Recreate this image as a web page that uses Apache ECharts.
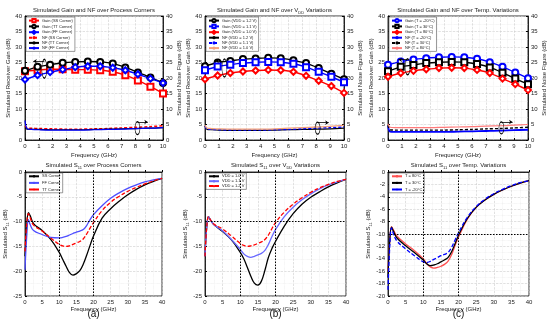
<!DOCTYPE html>
<html><head><meta charset="utf-8">
<script src="https://cdn.jsdelivr.net/npm/echarts@6/dist/echarts.min.js"></script>
<style>html,body{margin:0;padding:0;background:#fff}#c{width:550px;height:328px}</style>
</head><body><div id="c"></div>
<script>
// ---------- DATA ----------
const fGain = [0, 0.91, 1.82, 2.73, 3.64, 4.55, 5.45, 6.36, 7.27, 8.18, 9.09, 10];
const fNF = [0, 0.15, 0.5, 1, 2, 3, 4, 5, 6, 7, 8, 9, 10];
const fS11 = [0, 0.5, 1, 1.5, 2.5, 5, 7.5, 10, 11, 12, 13, 14, 15, 16, 17, 18, 19, 20, 22.5, 25, 27.5, 30, 32.5, 35, 37.5, 40];

// (top-left) process corners
const gainSS = [22.2, 22.6, 22.8, 22.8, 22.7, 22.7, 22.5, 22.0, 20.9, 19.2, 17.2, 15.0];
const gainTT = [22.3, 23.6, 24.3, 24.9, 25.2, 25.3, 25.2, 24.7, 23.4, 21.8, 20.2, 18.4];
const gainFF = [19.5, 20.9, 21.9, 22.7, 23.5, 23.8, 23.8, 23.3, 22.5, 21.2, 19.8, 18.4];
const nfSS = [4.5, 3.9, 3.8, 3.7, 3.6, 3.5, 3.5, 3.6, 3.7, 3.9, 4.1, 4.3, 4.6];
const nfTT = [4.0, 3.5, 3.4, 3.4, 3.3, 3.3, 3.3, 3.4, 3.5, 3.6, 3.7, 3.8, 4.0];
const nfFF = [6.3, 3.7, 3.4, 3.3, 3.2, 3.2, 3.2, 3.3, 3.4, 3.5, 3.7, 3.8, 4.0];

// (top-middle) VDD
const gainV12 = [23.8, 25.0, 25.5, 26.1, 26.3, 26.5, 26.4, 25.7, 24.8, 23.2, 21.4, 19.6];
const gainV11 = [22.5, 23.7, 24.3, 24.8, 25.1, 25.2, 25.1, 24.6, 23.5, 22.0, 20.4, 18.6];
const gainV10 = [19.6, 20.8, 21.6, 22.1, 22.4, 22.6, 22.5, 22.0, 20.7, 19.1, 17.4, 15.2];
const nfV12 = [4.5, 3.4, 3.3, 3.2, 3.1, 3.1, 3.1, 3.2, 3.3, 3.4, 3.5, 3.6, 3.8];
const nfV11 = [4.5, 3.5, 3.4, 3.3, 3.2, 3.2, 3.2, 3.3, 3.4, 3.6, 3.8, 4.0, 4.2];
const nfV10 = [4.8, 3.8, 3.7, 3.6, 3.5, 3.5, 3.5, 3.6, 3.8, 4.0, 4.2, 4.4, 4.7];

// (top-right) temperature
const gainTm20 = [24.3, 25.3, 26.0, 26.4, 26.7, 26.8, 26.7, 26.2, 25.1, 23.6, 21.8, 19.9];
const gainT30 = [22.2, 23.6, 24.2, 24.8, 25.1, 25.2, 25.1, 24.5, 23.4, 21.7, 19.8, 18.0];
const gainT80 = [20.4, 21.6, 22.3, 22.8, 23.2, 23.3, 23.2, 22.6, 21.6, 19.8, 18.0, 16.1];
const nfTm20 = [4.5, 2.7, 2.6, 2.6, 2.6, 2.6, 2.6, 2.7, 2.8, 2.9, 3.0, 3.2, 3.3];
const nfT30 = [4.8, 3.3, 3.2, 3.2, 3.2, 3.2, 3.2, 3.3, 3.4, 3.6, 3.7, 3.9, 4.1];
const nfT80 = [5.2, 4.1, 4.0, 4.0, 4.0, 4.0, 4.1, 4.2, 4.3, 4.5, 4.6, 4.8, 5.0];

// (a) S11 process corners
const s11SS = [-17, -11, -8.2, -8.8, -10.4, -11.8, -13.6, -16.2, -17.6, -19.0, -20.3, -20.8, -20.5, -19.9, -18.6, -16.8, -14.8, -12.9, -9.3, -7.4, -5.9, -4.6, -3.5, -2.6, -1.9, -1.3];
const s11FF = [-19.7, -13, -9.6, -10.6, -11.8, -12.6, -13.2, -13.3, -13.2, -13.0, -12.7, -12.4, -12.1, -11.9, -11.6, -10.8, -9.6, -8.6, -6.8, -5.3, -4.2, -3.3, -2.6, -2.0, -1.6, -1.3];
const s11TT = [-16, -10.5, -8.4, -9.2, -10.7, -11.9, -13.3, -14.6, -14.9, -15.0, -14.9, -14.6, -14.3, -14.0, -13.5, -12.5, -11.3, -10.2, -7.8, -6.1, -4.9, -3.9, -3.1, -2.4, -1.8, -1.3];
// (b) S11 VDD
const s11V10 = [-17, -11, -9, -9.6, -10.6, -12.0, -13.7, -16.2, -17.5, -19.2, -21.0, -22.4, -22.8, -22.0, -19.8, -17.2, -15.4, -14.0, -10.9, -8.4, -6.5, -5.1, -4.0, -3.0, -2.2, -1.5];
const s11V11 = [-17, -11, -9, -9.6, -10.6, -11.9, -13.6, -15.6, -16.5, -17.0, -17.2, -17.0, -16.7, -16.4, -15.8, -14.6, -13.0, -11.6, -9.0, -7.1, -5.6, -4.4, -3.4, -2.6, -2.0, -1.5];
const s11V12 = [-17, -11, -9, -9.6, -10.5, -11.5, -12.9, -14.4, -14.8, -15.0, -14.9, -14.7, -14.4, -14.1, -13.6, -12.7, -11.4, -10.2, -8.1, -6.5, -5.2, -4.1, -3.2, -2.5, -1.9, -1.5];
// (c) S11 temperature
const s11T80 = [-16, -11, -8.8, -9.3, -10.3, -11.6, -12.7, -14.0, -14.8, -15.3, -15.5, -15.4, -15.2, -14.9, -14.4, -13.4, -11.9, -10.5, -7.6, -5.7, -4.5, -3.6, -2.9, -2.3, -1.8, -1.4];
const s11T30 = [-17, -11, -8.9, -9.5, -10.6, -11.9, -13.0, -14.2, -14.8, -15.1, -15.0, -14.8, -14.5, -14.2, -13.8, -12.9, -11.6, -10.2, -7.5, -5.7, -4.5, -3.6, -2.9, -2.3, -1.8, -1.4];
const s11Tm20 = [-19, -12, -9.0, -9.9, -11.1, -12.4, -13.5, -14.5, -14.6, -14.4, -14.1, -13.8, -13.5, -13.3, -13.0, -12.2, -11.0, -9.8, -7.3, -5.6, -4.4, -3.5, -2.8, -2.2, -1.7, -1.4];

// reference lines on S11 plots
const refFreqs = [10, 20];
const refLevel = -10;
// annotations (ellipse centre x, centre y, arrow y, arrow end x) for top plots
const gainNote = [[1.4, 23.0, 25.4, 0.6], [1.4, 23.2, 25.5, 0.75], [1.4, 23.6, 25.9, 0.75]];
const nfNote = [[8.15, 3.8, 5.8, 8.9], [8.1, 3.8, 5.6, 8.9], [8.1, 3.9, 5.8, 8.9]];

// ---------- LAYOUT ----------
const grids = [
  {left: 25, top: 16, width: 138, height: 124},
  {left: 205, top: 16, width: 139, height: 124},
  {left: 388, top: 16, width: 140, height: 124},
  {left: 25, top: 172, width: 137, height: 124},
  {left: 205, top: 172, width: 141, height: 124},
  {left: 388, top: 172, width: 141, height: 124}
];
const RED = '#ff0000', BLUE = '#0000ff', BLK = '#000000';
const FONT = 'Liberation Sans, Arial, sans-serif';
const pairs = (xs, ys) => xs.map((x, i) => [x, ys[i]]);

const gridLine = {show: true, lineStyle: {color: '#cccccc', type: 'dashed', width: 0.6}};
const minorLine = {show: true, lineStyle: {color: '#e8e8e8', type: 'dotted', width: 0.6}};
const lbl = {fontSize: 6, color: '#222', margin: 3, fontFamily: FONT};
const nameStyle = {fontSize: 6, color: '#222', fontFamily: FONT,
  rich: {t: {fontSize: 6, lineHeight: 9, fontFamily: FONT, color: '#222'},
         s: {fontSize: 4, lineHeight: 9, verticalAlign: 'bottom', fontFamily: FONT, color: '#222'}}};

const xAxes = grids.map((g, i) => ({
  type: 'value', gridIndex: i, min: 0, max: i < 3 ? 10 : 40, interval: i < 3 ? 1 : 5,
  name: 'Frequency (GHz)', nameLocation: 'middle', nameGap: i < 3 ? 12 : 10, nameTextStyle: nameStyle,
  axisLine: {show: true, lineStyle: {color: '#000', width: 0.8}},
  axisTick: {show: true, inside: true, length: 2, lineStyle: {color: '#000'}},
  axisLabel: lbl, splitLine: gridLine, minorTick: {show: false, splitNumber: 2}, minorSplitLine: minorLine
}));

const yAxes = [];
function addY(gi, pos, min, max, interval, name) {
  yAxes.push({
    type: 'value', gridIndex: gi, position: pos, min, max, interval,
    name, nameLocation: 'middle', nameGap: pos === 'left' ? 11 : 12, nameRotate: 90,
    nameTextStyle: nameStyle,
    axisLine: {show: true, onZero: false, lineStyle: {color: '#000', width: 0.8}},
    axisTick: {show: true, inside: true, length: 2, lineStyle: {color: '#000'}},
    axisLabel: lbl,
    splitLine: pos === 'left' ? gridLine : {show: false},
    minorTick: {show: false, splitNumber: 2},
    minorSplitLine: pos === 'left' ? minorLine : {show: false}
  });
  return yAxes.length - 1;
}
const yIdx = [];
for (let i = 0; i < 3; i++) {
  yIdx.push([addY(i, 'left', 0, 40, 5, 'Simulated Receiver Gain (dB)'),
             addY(i, 'right', 0, 40, 5, 'Simulated Noise Figure (dB)')]);
}
const s11Name = '{t|Simulated S}{s|11}{t| (dB)}';
yIdx.push([addY(3, 'left', -25, 0, 5, s11Name)]);
yIdx.push([addY(4, 'left', -25, 0, 5, s11Name)]);
yIdx.push([addY(5, 'left', -20, 0, 2, s11Name)]);

const series = [];
function gainS(gi, name, vals, color, sym) {
  series.push({type: 'line', name, xAxisIndex: gi, yAxisIndex: yIdx[gi][0], data: pairs(fGain, vals),
    symbol: sym, symbolSize: 6, smooth: 0.2, lineStyle: {color, width: 1.4},
    itemStyle: {color, borderWidth: 1.3}, z: 3});
  return series[series.length - 1];
}
function nfS(gi, name, vals, color, type, width) {
  series.push({type: 'line', name, xAxisIndex: gi, yAxisIndex: yIdx[gi][1], data: pairs(fNF, vals),
    symbol: 'none', smooth: 0.3, lineStyle: {color, width: width || 1.2, type: type || 'solid'},
    itemStyle: {color}, z: 2});
  return series[series.length - 1];
}
function s11S(gi, name, vals, color, type) {
  series.push({type: 'line', name, xAxisIndex: gi, yAxisIndex: yIdx[gi][0], data: pairs(fS11, vals),
    symbol: 'none', smooth: 0.4, lineStyle: {color, width: 1.3, type: type || 'solid'},
    itemStyle: {color}, z: 3});
  return series[series.length - 1];
}
const ELLIPSE = 'path://M50,0 C77.6,0 100,22.4 100,50 C100,77.6 77.6,100 50,100 C22.4,100 0,77.6 0,50 C0,22.4 22.4,0 50,0 Z';
function annotate(s, note, h) {
  s.markPoint = {silent: true, symbol: ELLIPSE, symbolSize: [5, h], label: {show: false},
    itemStyle: {color: 'rgba(0,0,0,0)', borderColor: '#000', borderWidth: 0.8},
    data: [{coord: [note[0], note[1]]}]};
  s.markLine = {silent: true, symbol: ['none', 'arrow'], symbolSize: 3.5, label: {show: false},
    lineStyle: {color: '#000', width: 0.8, type: 'solid'},
    data: [[{coord: [note[0], note[2]]}, {coord: [note[3], note[2]]}]]};
}
function refLines(s) {
  s.markLine = {silent: true, symbol: 'none', label: {show: false},
    lineStyle: {color: '#000', width: 1, type: [1.5, 1.5]},
    data: refFreqs.map(f => ({xAxis: f})).concat([{yAxis: refLevel}])};
}

// Plot 1
let a = gainS(0, 'Gain (SS Corner)', gainSS, RED, 'emptyRect');
let b = gainS(0, 'Gain (TT Corner)', gainTT, BLK, 'emptyCircle');
gainS(0, 'Gain (FF Corner)', gainFF, BLUE, 'emptyDiamond');
annotate(b, gainNote[0], 19);
nfS(0, 'NF (SS Corner)', nfSS, RED, [3, 2], 1.5);
let c = nfS(0, 'NF (TT Corner)', nfTT, BLK);
nfS(0, 'NF (FF Corner)', nfFF, BLUE);
annotate(c, nfNote[0], 13);
// Plot 2
b = gainS(1, 'Gain (VDD = 1.2 V)', gainV12, BLK, 'emptyCircle');
gainS(1, 'Gain (VDD = 1.1 V)', gainV11, BLUE, 'emptyRect');
gainS(1, 'Gain (VDD = 1.0 V)', gainV10, RED, 'emptyDiamond');
annotate(b, gainNote[1], 18);
c = nfS(1, 'NF (VDD = 1.2 V)', nfV12, BLK);
nfS(1, 'NF (VDD = 1.1 V)', nfV11, BLUE, [3, 2], 1.4);
nfS(1, 'NF (VDD = 1.0 V)', nfV10, '#f4a07a', 'solid', 1.3);
annotate(c, nfNote[1], 12);
// Plot 3
b = gainS(2, 'Gain (T = -20°C)', gainTm20, BLUE, 'emptyCircle');
gainS(2, 'Gain (T = 30°C)', gainT30, BLK, 'emptyRect');
gainS(2, 'Gain (T = 80°C)', gainT80, RED, 'emptyDiamond');
annotate(b, gainNote[2], 16);
c = nfS(2, 'NF (T = -20°C)', nfTm20, BLUE, 'solid', 1.8);
nfS(2, 'NF (T = 30°C)', nfT30, BLK, [3, 2], 1.4);
nfS(2, 'NF (T = 80°C)', nfT80, '#ff7a7a', 'solid', 1.2);
annotate(c, nfNote[2], 12);
// Plot (a)
refLines(s11S(3, 'SS Corner', s11SS, BLK));
s11S(3, 'FF Corner', s11FF, '#4d4dff');
s11S(3, 'TT Corner', s11TT, RED, [4, 2]);
// Plot (b)
refLines(s11S(4, 'VDD = 1.0 V', s11V10, BLK));
s11S(4, 'VDD = 1.1 V', s11V11, '#6a6aff');
s11S(4, 'VDD = 1.2 V', s11V12, RED, [4, 2]);
// Plot (c)
refLines(s11S(5, 'T = 80°C', s11T80, '#ff5050'));
s11S(5, 'T = 30°C', s11T30, BLK);
s11S(5, 'T = -20°C', s11Tm20, BLUE, [4, 2]);

const legendNames = [
  ['Gain (SS Corner)', 'Gain (TT Corner)', 'Gain (FF Corner)', 'NF (SS Corner)', 'NF (TT Corner)', 'NF (FF Corner)'],
  ['Gain (VDD = 1.2 V)', 'Gain (VDD = 1.1 V)', 'Gain (VDD = 1.0 V)', 'NF (VDD = 1.2 V)', 'NF (VDD = 1.1 V)', 'NF (VDD = 1.0 V)'],
  ['Gain (T = -20°C)', 'Gain (T = 30°C)', 'Gain (T = 80°C)', 'NF (T = -20°C)', 'NF (T = 30°C)', 'NF (T = 80°C)'],
  ['SS Corner', 'FF Corner', 'TT Corner'],
  ['VDD = 1.0 V', 'VDD = 1.1 V', 'VDD = 1.2 V'],
  ['T = 80°C', 'T = 30°C', 'T = -20°C']
];
const legends = legendNames.map((names, i) => ({
  data: names, orient: 'vertical', left: grids[i].left + 1, top: grids[i].top + 1,
  itemWidth: 10, itemHeight: i < 3 ? 4 : 3, itemGap: i < 3 ? 0.6 : (i === 4 ? 0.3 : 2),
  padding: [1, 2, 1, 2], backgroundColor: '#fff', borderColor: '#555', borderWidth: 0.6, borderRadius: 0,
  selectedMode: false,
  textStyle: {fontSize: 4, lineHeight: 4.6, color: '#222', fontFamily: FONT, padding: [0, 0, 0, -2]}
}));

const tStyle = {fontSize: 6, fontWeight: 'normal', color: '#222', fontFamily: FONT,
  rich: {t: {fontSize: 6, lineHeight: 9, fontFamily: FONT, color: '#222'},
         s: {fontSize: 4, lineHeight: 9, verticalAlign: 'bottom', fontFamily: FONT, color: '#222'}}};
const titleTexts = [
  '{t|Simulated Gain and NF over Process Corners}',
  '{t|Simulated Gain and NF over V}{s|DD}{t| Variations}',
  '{t|Simulated Gain and NF over Temp. Variations}',
  '{t|Simulated S}{s|11}{t| over Process Corners}',
  '{t|Simulated S}{s|11}{t| over V}{s|DD}{t| Variations}',
  '{t|Simulated S}{s|11}{t| over Temp. Variations}'
];
const titles = titleTexts.map((t, i) => ({
  text: t, left: grids[i].left + grids[i].width / 2, textAlign: 'center',
  top: i < 3 ? 6 : 161, padding: 0, textStyle: tStyle
}));
['(a)', '(b)', '(c)'].forEach((t, k) => titles.push({
  text: t, left: grids[k + 3].left + grids[k + 3].width / 2, textAlign: 'center', top: 309, padding: 0,
  textStyle: {fontSize: 10, fontWeight: 'normal', color: '#111', fontFamily: FONT}
}));

const chart = echarts.init(document.getElementById('c'), null, {renderer: 'canvas'});
chart.setOption({
  animation: false,
  backgroundColor: '#fff',
  title: titles,
  legend: legends,
  grid: grids.map(g => Object.assign({show: true, borderColor: '#000', borderWidth: 0.8, backgroundColor: '#fff', containLabel: false}, g)),
  xAxis: xAxes,
  yAxis: yAxes,
  series
});
</script></body></html>
